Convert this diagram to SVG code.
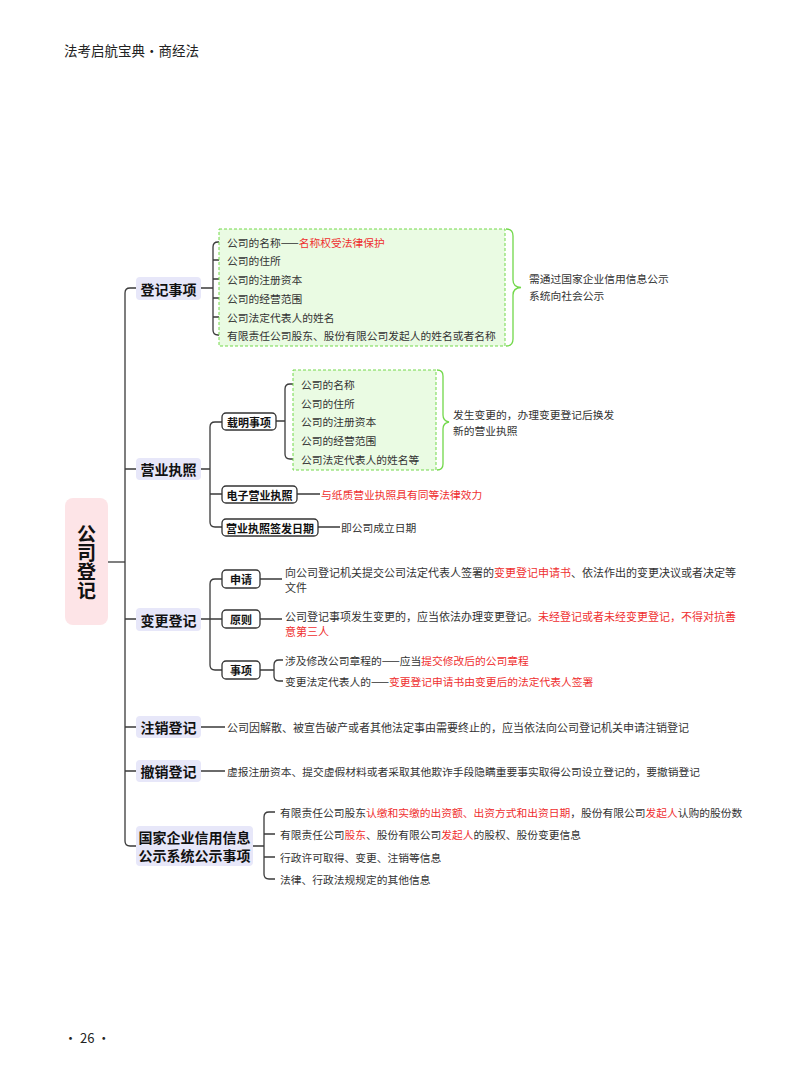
<svg xmlns="http://www.w3.org/2000/svg" width="800" height="1086" viewBox="0 0 800 1086">
<style>
text{font-family:"Noto Sans CJK SC","Noto Sans",sans-serif;}
.ln{fill:none;stroke:#3a3a3a;stroke-width:1.3;}
.main rect{fill:#e7e7f9;}
.main text{font-size:14px;font-weight:bold;fill:#111;text-anchor:middle;dominant-baseline:central;}
.sub rect{fill:#fff;stroke:#333;stroke-width:1.3;}
.sub text{font-size:11px;font-weight:bold;fill:#111;text-anchor:middle;dominant-baseline:central;}
.t{font-size:10.75px;fill:#333;dominant-baseline:central;}
.t11{font-size:11px;}
.r{fill:#ef2f2f;}
.gbox{fill:#eafbe3;stroke:#72d84a;stroke-width:1;stroke-dasharray:3 2;}
.brace{fill:none;stroke:#72d84a;stroke-width:1.3;}
</style>
<rect width="800" height="1086" fill="#fff"/>
<text x="64" y="50" style="font-size:13.5px;fill:#222;dominant-baseline:central">法考启航宝典・商经法</text>
<text x="64" y="1037" style="font-size:13px;fill:#222;dominant-baseline:central">· 26 ·</text>

<g id="connectors">
<path class="ln" d="M108,562 H125"/>
<path class="ln" d="M137,288 H130 Q125,288 125,293 V841 Q125,846 130,846 H137 M125,469 H137 M125,619 H137 M125,727 H137 M125,771 H137"/>
<path class="ln" d="M201,288 H213 M221,242 H218 Q213,242 213,247 V330 Q213,335 218,335 H221 M213,260 H221 M213,279 H221 M213,298 H221 M213,317 H221"/>
<path class="ln" d="M201,469 H210 M222,422 H215 Q210,422 210,427 V522 Q210,527 215,527 H222 M210,494 H222"/>
<path class="ln" d="M276,421 H285 M293,384 H290 Q285,384 285,389 V454 Q285,459 290,459 H293"/>
<path class="ln" d="M297,494 H320 M318,527 H340"/>
<path class="ln" d="M201,619 H210 M222,579 H215 Q210,579 210,584 V665 Q210,670 215,670 H222 M210,619 H222"/>
<path class="ln" d="M260,579 H282 M260,619 H282 M260,670 H274 M283,660 H279 Q274,660 274,665 V676 Q274,681 279,681 H283"/>
<path class="ln" d="M201,727 H225 M201,771 H225"/>
<path class="ln" d="M253,846 H264 M275,812 H269 Q264,812 264,817 V874 Q264,879 269,879 H275 M264,834 H275 M264,857 H275"/>
</g>

<g id="root">
<rect x="65" y="498" width="43" height="127" rx="8" fill="#fde4e7"/>
<text x="86.5" y="562" style="font-size:19px;font-weight:bold;fill:#111;text-anchor:middle;writing-mode:vertical-rl">公司登记</text>
</g>

<g id="n-dengji" class="main"><rect x="136" y="277" width="65" height="23" rx="4"/><text x="168.5" y="288.5">登记事项</text></g>
<g id="dengji-items">
<rect class="gbox" x="219" y="229" width="286" height="117"/>
<text class="t" x="227" y="242">公司的名称——<tspan class="r">名称权受法律保护</tspan></text>
<text class="t" x="227" y="260">公司的住所</text>
<text class="t" x="227" y="279">公司的注册资本</text>
<text class="t" x="227" y="298">公司的经营范围</text>
<text class="t" x="227" y="317">公司法定代表人的姓名</text>
<text class="t" x="227" y="335">有限责任公司股东、股份有限公司发起人的姓名或者名称</text>
<path class="brace" d="M506,229 Q513,229 513,236 V280 Q513,287 521,287.5 Q513,288 513,295 V339 Q513,346 506,346"/>
<text class="t" x="529" y="278">需通过国家企业信用信息公示</text>
<text class="t" x="529" y="295">系统向社会公示</text>
</g>

<g id="n-yingye" class="main"><rect x="136" y="458" width="65" height="22" rx="4"/><text x="168.5" y="469">营业执照</text></g>
<g id="n-zaiming" class="sub"><rect x="222" y="413" width="54" height="17" rx="4"/><text x="249" y="421.5">载明事项</text></g>
<g id="zaiming-items">
<rect class="gbox" x="293" y="370" width="143" height="100"/>
<text class="t" x="301" y="384">公司的名称</text>
<text class="t" x="301" y="403">公司的住所</text>
<text class="t" x="301" y="421">公司的注册资本</text>
<text class="t" x="301" y="440">公司的经营范围</text>
<text class="t" x="301" y="459">公司法定代表人的姓名等</text>
<path class="brace" d="M437,370 Q443,370 443,376 V415 Q443,421 449,422 Q443,423 443,429 V464 Q443,470 437,470"/>
<text class="t" x="453" y="414">发生变更的，办理变更登记后换发</text>
<text class="t" x="453" y="430">新的营业执照</text>
</g>
<g id="n-dianzi" class="sub"><rect x="222" y="486" width="75" height="17" rx="4"/><text x="259.5" y="494.5">电子营业执照</text></g>
<text class="t r" x="321" y="494">与纸质营业执照具有同等法律效力</text>
<g id="n-qianfa" class="sub"><rect x="222" y="519" width="96" height="17" rx="4"/><text x="270" y="527.5">营业执照签发日期</text></g>
<text class="t" x="341" y="527">即公司成立日期</text>

<g id="n-biangeng" class="main"><rect x="136" y="608" width="65" height="23" rx="4"/><text x="168.5" y="619.5">变更登记</text></g>
<g id="n-shenqing" class="sub"><rect x="222" y="570" width="38" height="18" rx="4"/><text x="241" y="579">申请</text></g>
<text class="t t11" x="285" y="572">向公司登记机关提交公司法定代表人签署的<tspan class="r">变更登记申请书</tspan>、依法作出的变更决议或者决定等</text>
<text class="t t11" x="285" y="587">文件</text>
<g id="n-yuanze" class="sub"><rect x="222" y="610" width="38" height="18" rx="4"/><text x="241" y="619">原则</text></g>
<text class="t t11" x="285" y="616">公司登记事项发生变更的，应当依法办理变更登记。<tspan class="r">未经登记或者未经变更登记，不得对抗善</tspan></text>
<text class="t t11 r" x="285" y="631">意第三人</text>
<g id="n-shixiang" class="sub"><rect x="222" y="661" width="38" height="18" rx="4"/><text x="241" y="670">事项</text></g>
<text class="t" x="285" y="660">涉及修改公司章程的——应当<tspan class="r">提交修改后的公司章程</tspan></text>
<text class="t" x="285" y="681">变更法定代表人的——<tspan class="r">变更登记申请书由变更后的法定代表人签署</tspan></text>

<g id="n-zhuxiao" class="main"><rect x="136" y="716" width="65" height="22" rx="4"/><text x="168.5" y="727">注销登记</text></g>
<text class="t t11" x="227" y="727">公司因解散、被宣告破产或者其他法定事由需要终止的，应当依法向公司登记机关申请注销登记</text>
<g id="n-chexiao" class="main"><rect x="136" y="760" width="65" height="22" rx="4"/><text x="168.5" y="771">撤销登记</text></g>
<text class="t" x="227" y="771">虚报注册资本、提交虚假材料或者采取其他欺诈手段隐瞒重要事实取得公司设立登记的，要撤销登记</text>

<g id="n-guojia" class="main"><rect x="136" y="826" width="117" height="40" rx="4"/><text x="194.5" y="837">国家企业信用信息</text><text x="194.5" y="855">公示系统公示事项</text></g>
<text class="t" x="280" y="812">有限责任公司股东<tspan class="r">认缴和实缴的出资额、出资方式和出资日期</tspan>，股份有限公司<tspan class="r">发起人</tspan>认购的股份数</text>
<text class="t" x="280" y="834">有限责任公司<tspan class="r">股东</tspan>、股份有限公司<tspan class="r">发起人</tspan>的股权、股份变更信息</text>
<text class="t" x="280" y="857">行政许可取得、变更、注销等信息</text>
<text class="t" x="280" y="879">法律、行政法规规定的其他信息</text>
</svg>
